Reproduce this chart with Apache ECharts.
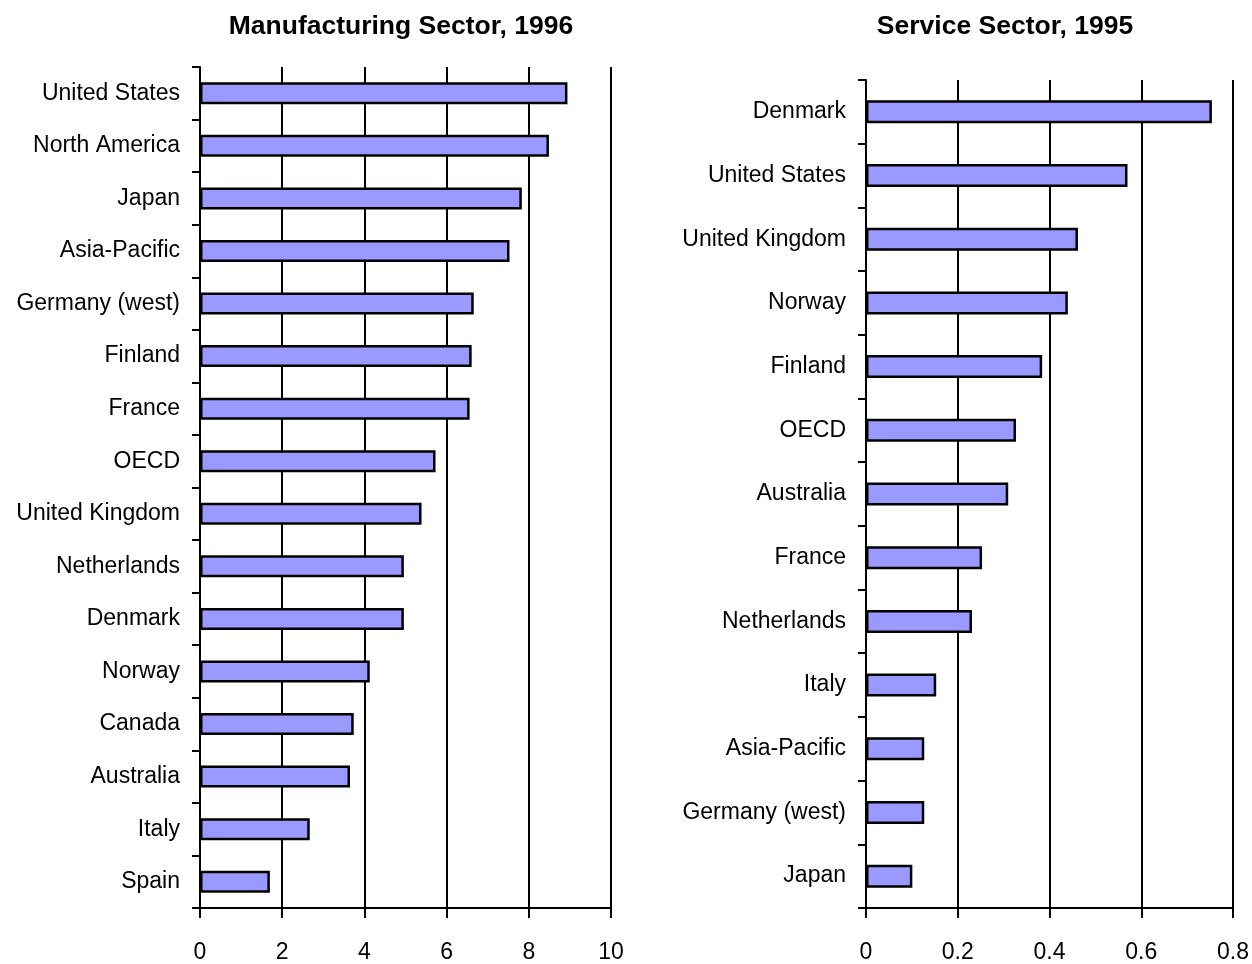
<!DOCTYPE html>
<html>
<head>
<meta charset="utf-8">
<title>Manufacturing and Service Sector</title>
<script src="https://cdn.jsdelivr.net/npm/echarts@6/dist/echarts.min.js"></script>
<style>
  html, body { margin: 0; padding: 0; background: #fff; }
  #chart { width: 1252px; height: 964px; }
</style>
</head>
<body>
<div id="chart"></div>
<script>
// left chart: manufacturing sector, 1996
var mfgCountries = [
  "United States", "North America", "Japan", "Asia-Pacific", "Germany (west)",
  "Finland", "France", "OECD", "United Kingdom", "Netherlands", "Denmark",
  "Norway", "Canada", "Australia", "Italy", "Spain"
];
var mfgValues = [8.94, 8.49, 7.83, 7.53, 6.66, 6.61, 6.56, 5.73, 5.39, 4.96, 4.96, 4.13, 3.74, 3.65, 2.67, 1.70];

// right chart: service sector, 1995
var svcCountries = [
  "Denmark", "United States", "United Kingdom", "Norway", "Finland", "OECD",
  "Australia", "France", "Netherlands", "Italy", "Asia-Pacific", "Germany (west)", "Japan"
];
var svcValues = [0.754, 0.570, 0.462, 0.440, 0.384, 0.327, 0.310, 0.253, 0.231, 0.153, 0.127, 0.127, 0.101];

var mfgTicks = { min: 0, max: 10, interval: 2 };
var svcTicks = { min: 0, max: 0.8, interval: 0.2 };

var FONT = "'Liberation Sans', Arial, sans-serif";
var black = "#000";

function valueAxis(gridIndex, ticks) {
  return {
    type: "value",
    gridIndex: gridIndex,
    min: ticks.min,
    max: ticks.max,
    interval: ticks.interval,
    axisLine: { show: true, lineStyle: { color: black, width: 2 } },
    axisTick: { show: true, length: 10, lineStyle: { color: black, width: 2 } },
    axisLabel: { color: black, fontFamily: FONT, fontSize: 23, margin: 33 },
    splitLine: { show: true, lineStyle: { color: black, width: 2 } }
  };
}

function categoryAxis(gridIndex, names) {
  return {
    type: "category",
    gridIndex: gridIndex,
    data: names,
    inverse: true,
    axisLine: { show: true, lineStyle: { color: black, width: 2 } },
    axisTick: { show: true, length: 8, lineStyle: { color: black, width: 2 } },
    axisLabel: { color: black, fontFamily: FONT, fontSize: 23, margin: 20, padding: [3, 0, 0, 0] },
    splitLine: { show: false }
  };
}

function barSeries(index, values, width) {
  return {
    type: "bar",
    xAxisIndex: index,
    yAxisIndex: index,
    data: values,
    barWidth: width,
    silent: true,
    itemStyle: { color: "#9999ff", borderColor: black, borderWidth: 2.5 }
  };
}

var chart = echarts.init(document.getElementById("chart"), null, { renderer: "canvas" });

var option = {
  backgroundColor: "#fff",
  animation: false,
  title: [
    {
      text: "Manufacturing Sector, 1996",
      left: 401, top: 13, padding: 0, textAlign: "center",
      textStyle: { color: black, fontFamily: FONT, fontWeight: "bold", fontSize: 26.5 }
    },
    {
      text: "Service Sector, 1995",
      left: 1005, top: 13, padding: 0, textAlign: "center",
      textStyle: { color: black, fontFamily: FONT, fontWeight: "bold", fontSize: 26.5 }
    }
  ],
  grid: [
    { left: 200, top: 67, width: 411, height: 843 },
    { left: 866, top: 80, width: 367, height: 828 }
  ],
  xAxis: [valueAxis(0, mfgTicks), valueAxis(1, svcTicks)],
  yAxis: [categoryAxis(0, mfgCountries), categoryAxis(1, svcCountries)],
  series: [barSeries(0, mfgValues, 22), barSeries(1, svcValues, 23)]
};

chart.setOption(option);
</script>
</body>
</html>
